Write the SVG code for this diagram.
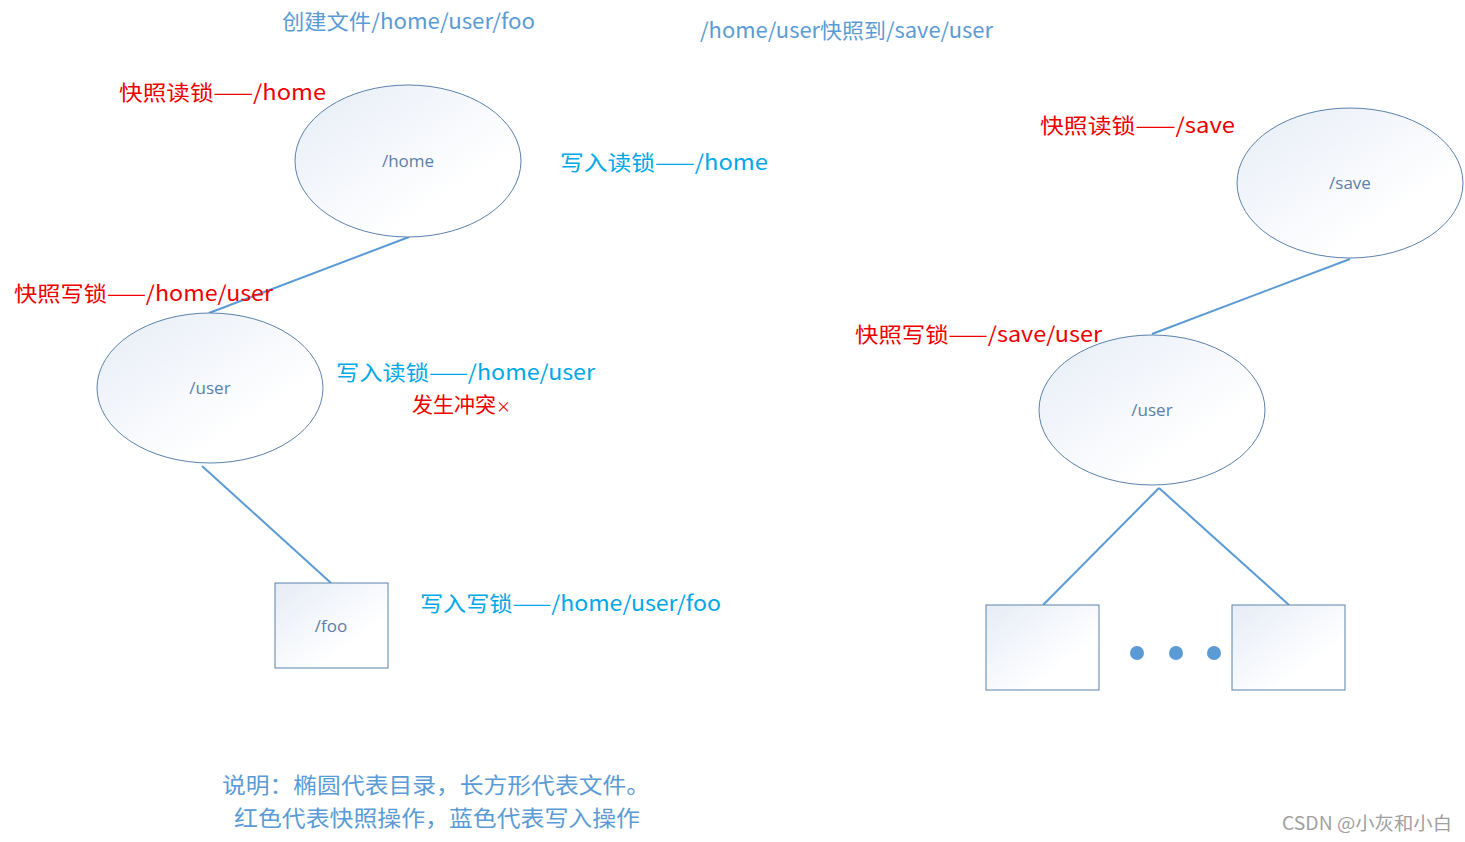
<svg xmlns="http://www.w3.org/2000/svg" width="1465" height="842" viewBox="0 0 1465 842">
<defs>
<linearGradient id="g" x1="0" y1="0" x2="0.7" y2="0.7">
<stop offset="0" stop-color="#e6ecf6"/>
<stop offset="1" stop-color="#ffffff"/>
</linearGradient>
<style>
.shape{fill:url(#g);stroke:#5a82ad;stroke-width:1}
.conn{stroke:#5b9bd5;stroke-width:2;fill:none}
.nl{font-family:"Open Sans","Noto Sans",sans-serif;font-size:17px;fill:#5b7fa8;text-anchor:middle}
.t{font-family:"Noto Sans CJK SC","Noto Sans",sans-serif;font-size:21px}
.red{fill:#ee0000}
.cyan{fill:#00a8e8}
.blue{fill:#5b9bd5}
.note{font-family:"Noto Sans CJK SC",sans-serif;font-size:22px;fill:#5b9bd5}
.wm{font-family:"Noto Sans CJK SC",sans-serif;font-size:18px;fill:#a0a0a0}
</style>
</defs>
<rect width="1465" height="842" fill="#ffffff"/>
<g id="connectors">
<line class="conn" x1="409" y1="237" x2="209" y2="313"/>
<line class="conn" x1="202" y1="466" x2="331" y2="583"/>
<line class="conn" x1="1350" y1="259" x2="1152" y2="334"/>
<line class="conn" x1="1159" y1="488" x2="1043" y2="605"/>
<line class="conn" x1="1159" y1="488" x2="1289" y2="605"/>
</g>
<g id="node-home"><ellipse class="shape" cx="408" cy="161" rx="113" ry="76"/><text class="nl" x="408" y="167">/home</text></g>
<g id="node-user-left"><ellipse class="shape" cx="210" cy="388" rx="113" ry="75"/><text class="nl" x="210" y="394">/user</text></g>
<g id="node-foo"><rect class="shape" x="275" y="583" width="113" height="85"/><text class="nl" x="331" y="632">/foo</text></g>
<g id="node-save"><ellipse class="shape" cx="1350" cy="183" rx="113" ry="75"/><text class="nl" x="1350" y="189">/save</text></g>
<g id="node-user-right"><ellipse class="shape" cx="1152" cy="410" rx="113" ry="75"/><text class="nl" x="1152" y="416">/user</text></g>
<g id="node-file1"><rect class="shape" x="986" y="605" width="113" height="85"/></g>
<g id="node-file2"><rect class="shape" x="1232" y="605" width="113" height="85"/></g>
<g id="dots" fill="#5b9bd5"><circle cx="1137" cy="653" r="7"/><circle cx="1176" cy="653" r="7"/><circle cx="1214" cy="653" r="7"/></g>
<g id="labels">
<text class="t blue" x="282" y="29" textLength="253" lengthAdjust="spacingAndGlyphs">创建文件/home/user/foo</text>
<text class="t blue" x="700" y="38" textLength="293" lengthAdjust="spacingAndGlyphs">/home/user快照到/save/user</text>
<text class="t red" x="119" y="100" textLength="207" lengthAdjust="spacingAndGlyphs">快照读锁——/home</text>
<text class="t cyan" x="560" y="170" textLength="208" lengthAdjust="spacingAndGlyphs">写入读锁——/home</text>
<text class="t red" x="14" y="301" textLength="259" lengthAdjust="spacingAndGlyphs">快照写锁——/home/user</text>
<text class="t cyan" x="336" y="380" textLength="259" lengthAdjust="spacingAndGlyphs">写入读锁——/home/user</text>
<text class="t red" x="412" y="412">发生冲突<tspan font-size="15">×</tspan></text>
<text class="t cyan" x="420" y="611" textLength="301" lengthAdjust="spacingAndGlyphs">写入写锁——/home/user/foo</text>
<text class="t red" x="1040" y="133" textLength="195" lengthAdjust="spacingAndGlyphs">快照读锁——/save</text>
<text class="t red" x="855" y="342" textLength="247" lengthAdjust="spacingAndGlyphs">快照写锁——/save/user</text>
<text class="note" x="222" y="793" textLength="428" lengthAdjust="spacingAndGlyphs">说明：椭圆代表目录，长方形代表文件。</text>
<text class="note" x="234" y="826" textLength="406" lengthAdjust="spacingAndGlyphs">红色代表快照操作，蓝色代表写入操作</text>
<text class="wm" x="1282" y="830" textLength="170" lengthAdjust="spacingAndGlyphs">CSDN @小灰和小白</text>
</g>
</svg>
